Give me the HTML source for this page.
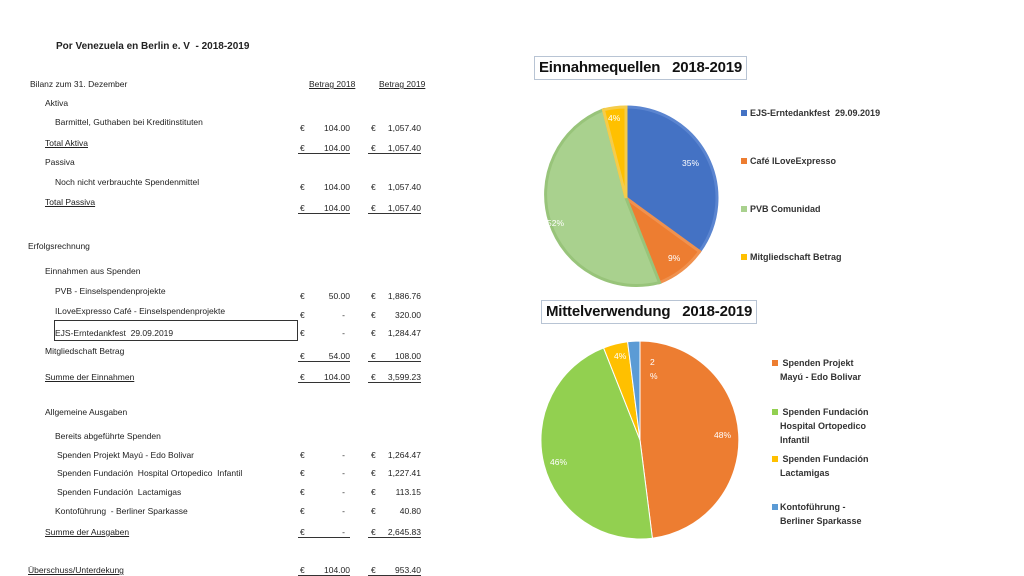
<!DOCTYPE html>
<html><head><meta charset="utf-8"><style>
body{margin:0;width:1024px;height:576px;background:#fff;position:relative;overflow:hidden;font-family:"Liberation Sans",sans-serif;color:#222}
.t{position:absolute;font-size:8.5px;white-space:nowrap;line-height:10px}
.u{text-decoration:underline}
.e{position:absolute;font-size:8.5px;line-height:10px}
.v{position:absolute;font-size:8.5px;line-height:10px;text-align:right;width:60px}
.ul{position:absolute;height:1px;background:#333}
.box{position:absolute;border:1px solid #b8c4d4;font-weight:bold;font-size:15px;line-height:22px;padding:0 4px;color:#111;white-space:nowrap}
.lg{position:absolute;font-size:9px;line-height:14px;font-weight:bold;color:#333}
.sq{position:absolute;width:6px;height:6px}
</style></head><body>
<div class="t" style="left:56px;top:42px;font-size:10px;font-weight:bold">Por Venezuela en Berlin e. V &nbsp;- 2018-2019</div>
<div class="t" style="left:30px;top:79px">Bilanz zum 31. Dezember</div>
<div class="t u" style="left:309px;top:79px">Betrag 2018</div>
<div class="t u" style="left:379px;top:79px">Betrag 2019</div>
<div class="t" style="left:45px;top:98px">Aktiva</div>
<div class="t" style="left:55px;top:117px">Barmittel, Guthaben bei Kreditinstituten</div>
<div class="t u" style="left:45px;top:138px">Total Aktiva</div>
<div class="t" style="left:45px;top:157px">Passiva</div>
<div class="t" style="left:55px;top:177px">Noch nicht verbrauchte Spendenmittel</div>
<div class="t u" style="left:45px;top:197px">Total Passiva</div>
<div class="t" style="left:28px;top:241px">Erfolgsrechnung</div>
<div class="t" style="left:45px;top:266px">Einnahmen aus Spenden</div>
<div class="t" style="left:55px;top:286px">PVB - Einselspendenprojekte</div>
<div class="t" style="left:55px;top:306px">ILoveExpresso Café - Einselspendenprojekte</div>
<div style="position:absolute;left:54px;top:320px;width:242px;height:19px;border:1px solid #333"></div>
<div class="t" style="left:55px;top:328px">EJS-Erntedankfest &nbsp;29.09.2019</div>
<div class="t" style="left:45px;top:346px">Mitgliedschaft Betrag</div>
<div class="t u" style="left:45px;top:372px">Summe der Einnahmen</div>
<div class="t" style="left:45px;top:407px">Allgemeine Ausgaben</div>
<div class="t" style="left:55px;top:431px">Bereits abgeführte Spenden</div>
<div class="t" style="left:57px;top:450px">Spenden Projekt Mayú - Edo Bolivar</div>
<div class="t" style="left:57px;top:468px">Spenden Fundación &nbsp;Hospital Ortopedico &nbsp;Infantil</div>
<div class="t" style="left:57px;top:487px">Spenden Fundación &nbsp;Lactamigas</div>
<div class="t" style="left:55px;top:506px">Kontoführung &nbsp;- Berliner Sparkasse</div>
<div class="t u" style="left:45px;top:527px">Summe der Ausgaben</div>
<div class="t u" style="left:28px;top:565px">Überschuss/Unterdekung</div>

<div class="e" style="left:300px;top:123px">€</div><div class="v" style="left:290px;top:123px">104.00</div><div class="e" style="left:371px;top:123px">€</div><div class="v" style="left:361px;top:123px">1,057.40</div>
<div class="e" style="left:300px;top:143px">€</div><div class="v" style="left:290px;top:143px">104.00</div><div class="e" style="left:371px;top:143px">€</div><div class="v" style="left:361px;top:143px">1,057.40</div>
<div class="ul" style="left:298px;top:153px;width:52px"></div><div class="ul" style="left:368px;top:153px;width:53px"></div>
<div class="e" style="left:300px;top:182px">€</div><div class="v" style="left:290px;top:182px">104.00</div><div class="e" style="left:371px;top:182px">€</div><div class="v" style="left:361px;top:182px">1,057.40</div>
<div class="e" style="left:300px;top:203px">€</div><div class="v" style="left:290px;top:203px">104.00</div><div class="e" style="left:371px;top:203px">€</div><div class="v" style="left:361px;top:203px">1,057.40</div>
<div class="ul" style="left:298px;top:213px;width:52px"></div><div class="ul" style="left:368px;top:213px;width:53px"></div>
<div class="e" style="left:300px;top:291px">€</div><div class="v" style="left:290px;top:291px">50.00</div><div class="e" style="left:371px;top:291px">€</div><div class="v" style="left:361px;top:291px">1,886.76</div>
<div class="e" style="left:300px;top:310px">€</div><div class="v" style="left:285px;top:310px">-</div><div class="e" style="left:371px;top:310px">€</div><div class="v" style="left:361px;top:310px">320.00</div>
<div class="e" style="left:300px;top:328px">€</div><div class="v" style="left:285px;top:328px">-</div><div class="e" style="left:371px;top:328px">€</div><div class="v" style="left:361px;top:328px">1,284.47</div>
<div class="e" style="left:300px;top:351px">€</div><div class="v" style="left:290px;top:351px">54.00</div><div class="e" style="left:371px;top:351px">€</div><div class="v" style="left:361px;top:351px">108.00</div>
<div class="ul" style="left:298px;top:361px;width:52px"></div><div class="ul" style="left:368px;top:361px;width:53px"></div>
<div class="e" style="left:300px;top:372px">€</div><div class="v" style="left:290px;top:372px">104.00</div><div class="e" style="left:371px;top:372px">€</div><div class="v" style="left:361px;top:372px">3,599.23</div>
<div class="ul" style="left:298px;top:382px;width:52px"></div><div class="ul" style="left:368px;top:382px;width:53px"></div>
<div class="e" style="left:300px;top:450px">€</div><div class="v" style="left:285px;top:450px">-</div><div class="e" style="left:371px;top:450px">€</div><div class="v" style="left:361px;top:450px">1,264.47</div>
<div class="e" style="left:300px;top:468px">€</div><div class="v" style="left:285px;top:468px">-</div><div class="e" style="left:371px;top:468px">€</div><div class="v" style="left:361px;top:468px">1,227.41</div>
<div class="e" style="left:300px;top:487px">€</div><div class="v" style="left:285px;top:487px">-</div><div class="e" style="left:371px;top:487px">€</div><div class="v" style="left:361px;top:487px">113.15</div>
<div class="e" style="left:300px;top:506px">€</div><div class="v" style="left:285px;top:506px">-</div><div class="e" style="left:371px;top:506px">€</div><div class="v" style="left:361px;top:506px">40.80</div>
<div class="e" style="left:300px;top:527px">€</div><div class="v" style="left:285px;top:527px">-</div><div class="e" style="left:371px;top:527px">€</div><div class="v" style="left:361px;top:527px">2,645.83</div>
<div class="ul" style="left:298px;top:537px;width:52px"></div><div class="ul" style="left:368px;top:537px;width:53px"></div>
<div class="e" style="left:300px;top:565px">€</div><div class="v" style="left:290px;top:565px">104.00</div><div class="e" style="left:371px;top:565px">€</div><div class="v" style="left:361px;top:565px">953.40</div>
<div class="ul" style="left:298px;top:575px;width:52px"></div><div class="ul" style="left:368px;top:575px;width:53px"></div>

<div class="box" style="left:534px;top:56px;letter-spacing:-0.2px">Einnahmequellen &nbsp;&nbsp;2018-2019</div>
<div class="box" style="left:541px;top:300px;letter-spacing:-0.2px">Mittelverwendung &nbsp;&nbsp;2018-2019</div>

<svg width="1024" height="576" style="position:absolute;left:0;top:0" font-family="Liberation Sans, sans-serif" font-size="8.5" fill="#fff">
<g stroke-width="3">
<path d="M626,198 L626,107 A91,91 0 0 1 699.6,251.5 Z" fill="#4472c4" stroke="#5b85d0"/>
<path d="M626,198 L699.6,251.5 A91,91 0 0 1 659.5,282.6 Z" fill="#ed7d31" stroke="#f0914e"/>
<path d="M626,198 L659.5,282.6 A91,91 0 0 1 603.4,109.8 Z" fill="#a9d18e" stroke="#98c47a"/>
<path d="M626,198 L603.4,109.8 A91,91 0 0 1 626,107 Z" fill="#ffc000" stroke="#f5cc4a"/>
</g>
<text x="682" y="166">35%</text><text x="668" y="261">9%</text><text x="547" y="226">52%</text><text x="608" y="121">4%</text>
<g stroke="#fff" stroke-width="1">
<path d="M640,440 L640,341 A99,99 0 0 1 652.4,538.2 Z" fill="#ed7d31"/>
<path d="M640,440 L652.4,538.2 A99,99 0 0 1 603.6,347.9 Z" fill="#92d050"/>
<path d="M640,440 L603.6,347.9 A99,99 0 0 1 627.6,341.8 Z" fill="#ffc000"/>
<path d="M640,440 L627.6,341.8 A99,99 0 0 1 640,341 Z" fill="#5b9bd5"/>
</g>
<text x="714" y="438">48%</text><text x="550" y="465">46%</text><text x="614" y="359">4%</text><text x="650" y="365">2</text><text x="650" y="379">%</text>
</svg>

<div class="sq" style="left:741px;top:110px;background:#4472c4"></div><div class="lg" style="left:750px;top:106px">EJS-Erntedankfest &nbsp;29.09.2019</div>
<div class="sq" style="left:741px;top:158px;background:#ed7d31"></div><div class="lg" style="left:750px;top:154px">Café ILoveExpresso</div>
<div class="sq" style="left:741px;top:206px;background:#a9d18e"></div><div class="lg" style="left:750px;top:202px">PVB Comunidad</div>
<div class="sq" style="left:741px;top:254px;background:#ffc000"></div><div class="lg" style="left:750px;top:250px">Mitgliedschaft Betrag</div>

<div class="sq" style="left:772px;top:360px;background:#ed7d31"></div><div class="lg" style="left:780px;top:356px">&nbsp;Spenden Projekt<br>Mayú - Edo Bolivar</div>
<div class="sq" style="left:772px;top:409px;background:#92d050"></div><div class="lg" style="left:780px;top:405px">&nbsp;Spenden Fundación<br>Hospital Ortopedico<br>Infantil</div>
<div class="sq" style="left:772px;top:456px;background:#ffc000"></div><div class="lg" style="left:780px;top:452px">&nbsp;Spenden Fundación<br>Lactamigas</div>
<div class="sq" style="left:772px;top:504px;background:#5b9bd5"></div><div class="lg" style="left:780px;top:500px">Kontoführung -<br>Berliner Sparkasse</div>
</body></html>
